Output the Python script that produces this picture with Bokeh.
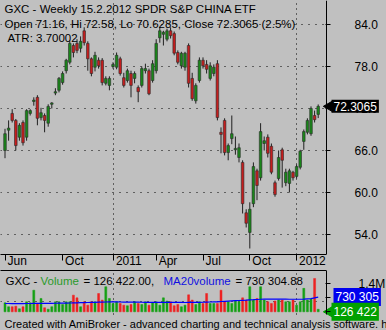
import math
from bokeh.plotting import figure
from bokeh.models import ColumnDataSource, FixedTicker, Label, Range1d, LinearAxis, Grid
from bokeh.layouts import column
from bokeh.embed import file_html
from bokeh.resources import INLINE

# ---------------- data ----------------
opens = [66.0, 68.9, 71.3, 70.3, 67.9, 70.0, 67.9, 71.3, 73.0, 73.6,
         70.7, 71.0, 69.9, 72.6, 74.2, 74.6, 75.7, 77.4, 78.6, 81.0,
         81.3, 80.6, 83.1, 81.3, 79.1, 77.9, 78.9, 78.9, 75.6, 75.3,
         78.0, 77.9, 79.1, 76.4, 76.0, 77.0, 76.3, 75.0, 75.3, 77.4,
         77.4, 76.0, 77.4, 82.1, 82.6, 81.9, 83.1, 82.7, 80.0, 78.1,
         77.9, 81.0, 76.3, 73.1, 76.0, 78.9, 78.3, 76.3, 77.0, 78.4,
         68.6, 70.3, 65.7, 67.7, 66.1, 65.0, 64.3, 57.1, 54.3, 58.4,
         63.1, 62.1, 67.0, 67.9, 66.6, 61.4, 62.0, 66.1, 61.4, 61.3,
         62.9, 62.3, 63.6, 67.3, 68.6, 68.4, 71.0, 71.16]
highs = [69.1, 70.3, 71.9, 70.5, 69.9, 70.3, 71.9, 71.9, 73.6, 73.9,
         72.1, 71.3, 72.6, 72.9, 74.9, 76.5, 77.3, 79.1, 81.7, 81.3,
         81.9, 82.3, 83.6, 81.6, 79.3, 80.1, 79.3, 79.2, 76.6, 76.6,
         78.6, 80.0, 79.4, 77.1, 77.7, 77.4, 77.3, 75.3, 78.0, 78.4,
         77.7, 78.9, 81.9, 83.6, 83.1, 83.4, 83.6, 83.0, 80.3, 80.1,
         80.1, 81.3, 77.1, 75.6, 79.3, 79.3, 78.9, 78.6, 78.3, 78.9,
         69.3, 70.6, 67.0, 71.0, 68.0, 67.0, 64.6, 57.6, 58.6, 64.3,
         63.4, 69.9, 68.0, 68.3, 67.0, 61.7, 66.0, 66.4, 63.4, 63.4,
         63.1, 64.0, 66.1, 69.0, 70.6, 72.3, 71.7, 72.58]
lows = [64.9, 67.4, 70.0, 66.0, 67.4, 66.7, 67.4, 71.0, 72.4, 69.6,
        70.3, 68.6, 69.4, 72.0, 73.9, 74.3, 75.4, 77.0, 78.3, 79.3,
        79.9, 80.0, 81.0, 77.4, 76.6, 77.3, 77.7, 75.3, 75.3, 74.6,
        77.7, 77.6, 76.7, 75.0, 75.7, 73.6, 75.6, 72.9, 75.0, 77.0,
        73.9, 75.7, 77.0, 81.4, 81.0, 81.6, 82.0, 79.6, 78.3, 77.7,
        77.4, 75.0, 73.1, 72.7, 75.7, 77.7, 77.0, 76.0, 76.6, 70.3,
        65.6, 65.3, 64.6, 66.9, 65.4, 64.3, 57.0, 55.0, 52.0, 57.9,
        58.9, 61.7, 66.0, 65.0, 62.6, 59.4, 61.7, 60.7, 60.9, 60.0,
        61.7, 62.0, 63.3, 66.1, 68.3, 68.1, 70.0, 70.6285]
closes = [68.4, 69.2, 70.3, 66.7, 69.6, 67.1, 71.7, 71.7, 73.2, 70.6,
          71.4, 70.3, 72.3, 72.8, 74.4, 76.3, 77.0, 78.9, 81.3, 80.0,
          80.3, 81.6, 81.4, 79.1, 77.0, 79.6, 78.1, 75.7, 76.3, 76.3,
          78.3, 79.6, 77.0, 75.3, 77.4, 75.3, 77.0, 74.4, 77.7, 77.7,
          74.1, 78.4, 81.3, 83.1, 82.9, 83.1, 82.4, 79.9, 78.6, 79.9,
          79.9, 75.6, 73.4, 75.3, 78.9, 78.1, 77.6, 78.1, 77.9, 70.7,
          68.3, 65.7, 66.7, 68.4, 66.3, 66.4, 58.4, 55.6, 57.6, 63.7,
          61.0, 68.7, 67.4, 65.6, 62.9, 59.7, 65.0, 64.6, 62.9, 63.1,
          62.1, 63.7, 65.9, 68.7, 70.3, 72.0, 70.4, 72.3065]
volume = [445000, 250000, 250000, 280000, 150000, 250000, 495000, 445000, 1070000, 410000,
          660000, 200000, 130000, 250000, 495000, 495000, 360000, 495000, 495000, 825000,
          690000, 250000, 495000, 330000, 495000, 495000, 905000, 580000, 1240000, 660000,
          410000, 495000, 410000, 330000, 300000, 360000, 495000, 410000, 360000, 495000,
          330000, 445000, 495000, 330000, 690000, 530000, 495000, 300000, 360000, 250000,
          330000, 840000, 580000, 360000, 495000, 410000, 905000, 410000, 410000, 410000,
          1070000, 495000, 495000, 410000, 530000, 495000, 690000, 580000, 1240000, 580000,
          660000, 1240000, 580000, 495000, 410000, 530000, 580000, 580000, 495000, 495000,
          580000, 330000, 495000, 1160000, 580000, 630000, 1650000, 126422]
ma20volume = [410000, 410000, 408000, 405000, 405000, 408000, 410000, 412000, 415000, 418000,
              420000, 420000, 418000, 420000, 422000, 425000, 428000, 430000, 435000, 440000,
              445000, 450000, 455000, 460000, 465000, 470000, 475000, 480000, 485000, 490000,
              490000, 488000, 485000, 482000, 480000, 478000, 478000, 475000, 472000, 470000,
              470000, 468000, 465000, 465000, 468000, 470000, 470000, 468000, 465000, 462000,
              460000, 462000, 465000, 468000, 470000, 472000, 480000, 485000, 490000, 495000,
              510000, 520000, 530000, 540000, 550000, 560000, 570000, 580000, 595000, 600000,
              610000, 620000, 625000, 625000, 628000, 630000, 630000, 628000, 625000, 622000,
              620000, 620000, 622000, 630000, 640000, 650000, 690000, 730304.88]

month_bars = [0, 16, 30, 42, 55, 68, 81]
month_labels = ["Jun", "Oct", "2011", "Apr", "Jul", "Oct", "2012"]
year_bars = [30, 81]
price_ticks = [54, 60, 66, 72, 78, 84]
price_tick_labels = ["54.0", "60.0", "66.0", "72.0", "78.0", "84.0"]
vol_ticks = [0, 700000, 1400000]
vol_tick_labels = ["", "", "1.4M"]
vol_grid_levels = [500000]

title_line1 = "GXC - Weekly 15.2.2012  SPDR S&P CHINA ETF"
title_line2 = "Open 71.16, Hi 72.58, Lo 70.6285, Close 72.3065 (2.5%)"
title_line3 = "ATR: 3.70002"
last_close_text = "72.3065"
vol_last_text = "126 422"
ma_last_text = "730 305"
footer_text = "Created with AmiBroker - advanced charting and technical analysis software. http://www.amibroker.com/"

# ---------------- styling / layout constants ----------------
BG = "#c0c0c0"
UP_BODY = "#1a861a"
DN_BODY = "#c41e1e"
VOL_UP = "#14a014"
VOL_DN = "#ee2222"
TAG_GREEN = "#00a000"
TAG_BLUE = "#0000ee"
FONT = "Liberation Sans"
W = 386
PLOT_W = 326            # width of the bar area, the price scale sits right of it
PX_PER_BAR = 3.6
XR = Range1d(-1.25, -1.25 + W / PX_PER_BAR)
AXIS_X = XR.start + PLOT_W / PX_PER_BAR

# volume pane geometry: frame runs 270..330 px; pane itself ends at 314 px, footer below
VOL_PER_PX = 49500.0
VOL_BASE_PX = 18.7      # baseline height above the frame bottom
VOL_FRAME_H = 60
VYR = Range1d(-VOL_BASE_PX * VOL_PER_PX, (VOL_FRAME_H - VOL_BASE_PX) * VOL_PER_PX)
PANE_BOTTOM = -(VOL_BASE_PX - 16) * VOL_PER_PX

idx = list(range(len(opens)))
up = [c >= o for o, c in zip(opens, closes)]
src = ColumnDataSource(dict(
    x=idx, o=opens, h=highs, l=lows, c=closes,
    top=[max(o, c) for o, c in zip(opens, closes)],
    bot=[min(o, c) for o, c in zip(opens, closes)],
    body=[UP_BODY if u else DN_BODY for u in up],
    vol=volume, ma=ma20volume,
    vcol=[VOL_UP if u else VOL_DN for u in up],
))


def dotted_grid(dim, ticks, dash, cross=None):
    kw = dict(dimension=dim, ticker=FixedTicker(ticks=ticks), grid_line_color="black",
              grid_line_dash=dash)
    if cross is not None:
        try:
            return Grid(cross_bounds=cross, **kw)
        except Exception:
            pass
    return Grid(**kw)


def price_style_axis(ax, ticks, labels, standoff):
    ax.ticker = FixedTicker(ticks=ticks)
    ax.major_label_overrides = {t: s for t, s in zip(ticks, labels)}
    ax.axis_line_color = "black"
    ax.major_tick_line_color = "black"
    ax.major_tick_in = 1
    ax.major_tick_out = 4
    ax.minor_tick_line_color = None
    ax.major_label_standoff = standoff
    ax.major_label_text_font = FONT
    ax.major_label_text_font_size = "12px"
    ax.major_label_text_color = "black"


# ---------------- main price panel ----------------
p = figure(width=W, height=270, output_backend="svg", toolbar_location=None,
           x_range=XR, y_range=Range1d(51.14, 87.43), y_axis_location=None,
           min_border_left=0, min_border_right=0, min_border_top=0, min_border_bottom=16,
           background_fill_color=BG, border_fill_color=BG, outline_line_color=None)
p.grid.grid_line_color = None

p.segment(x0="x", y0="l", x1="x", y1="h", source=src, line_color="#202020", line_width=1)
p.vbar(x="x", width=0.72, top="top", bottom="bot", source=src,
       fill_color="body", line_color="#2a2a2a", line_width=0.6)

# price scale: a right axis pinned at the right edge of the bar area
yax = LinearAxis(fixed_location=AXIS_X)
price_style_axis(yax, price_ticks, price_tick_labels, 24)
p.add_layout(yax, "right")

# bottom time axis: minor ticks mark the month starts, labels sit right of them
CW = {"J": 6.0, "u": 6.67, "n": 6.67, "O": 9.34, "c": 6.0, "t": 3.34, "A": 8.0,
      "p": 6.67, "r": 4.0, "l": 2.67}
def text_w(s):
    return sum(CW.get(ch, 6.67) for ch in s)
label_pos = [round(b + (2.5 + text_w(s) / 2) / PX_PER_BAR, 3) for b, s in zip(month_bars, month_labels)]
xax = p.xaxis[0]
xax.ticker = FixedTicker(ticks=label_pos, minor_ticks=month_bars)
xax.major_label_overrides = {t: s for t, s in zip(label_pos, month_labels)}
xax.bounds = (XR.start, AXIS_X)
xax.axis_line_color = "black"
xax.major_tick_out = 0
xax.major_tick_in = 0
xax.minor_tick_out = 6
xax.minor_tick_in = 0
xax.minor_tick_line_color = "black"
xax.major_label_standoff = -7
xax.major_label_text_font = FONT
xax.major_label_text_font_size = "12px"
xax.major_label_text_color = "black"

p.add_layout(dotted_grid(1, price_ticks, "1 6", cross=(XR.start, AXIS_X)))
p.add_layout(dotted_grid(0, year_bars, "1 4"))

FH = 254  # frame height (px)
for txt, xs, yc in [(title_line1, 4, 8.5), (title_line2, 4, 23), (title_line3, 7, 37)]:
    p.add_layout(Label(x=xs, y=FH - yc, x_units="screen", y_units="screen", text=txt,
                       text_font=FONT, text_font_size="11.5px", text_color="black",
                       text_baseline="middle", text_align="left"))

# last close tag on the price scale
p.scatter(x=[AXIS_X + 3.2 / PX_PER_BAR], y=[closes[-1]], marker="triangle", angle=math.pi / 2,
          size=11, fill_color="black", line_color="black")
p.add_layout(Label(x=PLOT_W + 5, y=closes[-1], x_units="screen", y_units="data",
                   text=last_close_text,
                   text_font=FONT, text_font_size="12px", text_color="white",
                   text_baseline="middle", text_align="left",
                   background_fill_color="black", padding=2))

# ---------------- volume panel ----------------
pv = figure(width=W, height=VOL_FRAME_H, output_backend="svg", toolbar_location=None,
            x_range=XR, y_range=VYR,
            x_axis_location=None, y_axis_location=None,
            min_border_left=0, min_border_right=0, min_border_top=0, min_border_bottom=0,
            background_fill_color=BG, border_fill_color=BG, outline_line_color=None)
pv.grid.grid_line_color = None

pv.add_layout(dotted_grid(1, vol_grid_levels, "1 6", cross=(XR.start, AXIS_X)))
pv.add_layout(dotted_grid(0, year_bars, "1 4", cross=(PANE_BOTTOM, VYR.end)))

pv.vbar(x="x", width=0.55, top="vol", bottom=0, source=src,
        fill_color="vcol", line_color="vcol", line_width=0.5)
pv.line(x="x", y="ma", source=src, line_color="#0000ff", line_width=1.2)

vax = LinearAxis(fixed_location=AXIS_X, bounds=(PANE_BOTTOM, VYR.end))
price_style_axis(vax, vol_ticks, vol_tick_labels, 28)
pv.add_layout(vax, "right")

# pane separator on top of the volume pane
sep = LinearAxis(ticker=FixedTicker(ticks=[]), bounds=(XR.start, AXIS_X),
                 axis_line_color="black", major_tick_out=0, major_tick_in=0,
                 minor_tick_out=0, minor_tick_in=0, major_label_standoff=0,
                 major_label_text_font_size="0px")
pv.add_layout(sep, "above")

vol_title = [("GXC - ", "black", 5), ("Volume", "#2a9a2a", 40), ("= 126 422.00,", "black", 83),
             ("MA20volume", "#1010e0", 163), ("= 730 304.88", "black", 235)]
for txt, col, xs in vol_title:
    pv.add_layout(Label(x=xs, y=VOL_FRAME_H - 10, x_units="screen", y_units="screen", text=txt,
                        text_font=FONT, text_font_size="11.5px", text_color=col,
                        text_baseline="middle", text_align="left"))

pv.add_layout(Label(x=PLOT_W + 7, y=ma20volume[-1], x_units="screen", y_units="data",
                    text=ma_last_text,
                    text_font=FONT, text_font_size="12px", text_color="white",
                    text_baseline="middle", text_align="left",
                    background_fill_color=TAG_BLUE, padding=2))
pv.scatter(x=[AXIS_X + 3.2 / PX_PER_BAR], y=[0], marker="triangle", angle=math.pi / 2,
           size=11, fill_color=TAG_GREEN, line_color=TAG_GREEN)
pv.add_layout(Label(x=PLOT_W + 5, y=0, x_units="screen", y_units="data",
                    text=vol_last_text,
                    text_font=FONT, text_font_size="12px", text_color="white",
                    text_baseline="middle", text_align="left",
                    background_fill_color=TAG_GREEN, padding=2))

pv.add_layout(Label(x=4, y=7, x_units="screen", y_units="screen", text=footer_text,
                    text_font=FONT, text_font_size="11px", text_color="black",
                    text_baseline="middle", text_align="left"))

layout = column(p, pv, spacing=0, styles={"background-color": BG})
open("out.html", "w").write(file_html(layout, INLINE))
